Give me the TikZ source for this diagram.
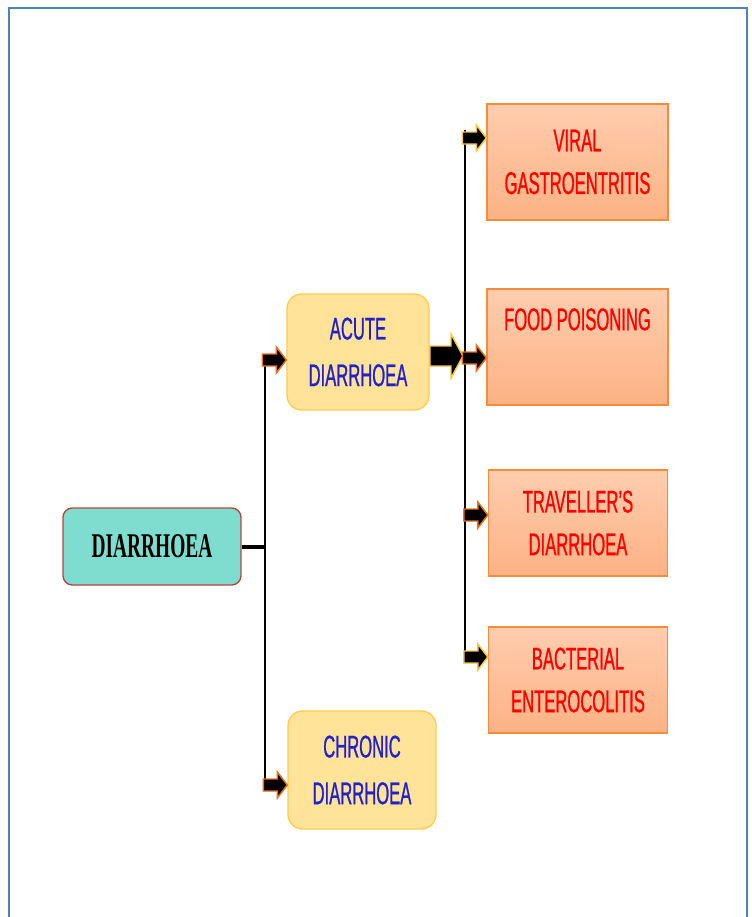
\documentclass[tikz,border=0pt]{standalone}
\usepackage{fontspec}
\usetikzlibrary{calc}
\newfontfamily\narrowsans[FakeStretch=0.53,FakeBold=0.8]{Liberation Sans}
\newfontfamily\narrowserif[FakeStretch=0.56]{Liberation Serif}
\definecolor{framebl}{HTML}{4F81BD}
\definecolor{tealfill}{HTML}{7EDDCF}
\definecolor{tealedge}{HTML}{B8453C}
\definecolor{yelfill}{HTML}{FFE398}
\definecolor{yeledge}{HTML}{FFCB4C}
\definecolor{ortop}{HTML}{FFCDAE}
\definecolor{orbot}{HTML}{FCB284}
\definecolor{oredge}{HTML}{F68B3C}
\definecolor{txtblue}{HTML}{2222CC}
\definecolor{arrorange}{HTML}{E8701A}
\definecolor{arryellow}{HTML}{F6C646}
\tikzset{
  mainbox/.style={draw=tealedge,fill=tealfill,line width=1pt,rounded corners=7pt,
    minimum width=133.5pt,minimum height=57.75pt,inner sep=0pt,
    font=\narrowserif\bfseries\fontsize{26}{30}\selectfont},
  typebox/.style={draw=yeledge,fill=yelfill,line width=1pt,rounded corners=11pt,
    inner sep=0pt,align=center,text=txtblue,
    font=\narrowsans\fontsize{23.5}{35}\selectfont},
  causebox/.style={draw=oredge,top color=ortop,bottom color=orbot,line width=1pt,
    inner sep=0pt,align=center,text=red,
    font=\narrowsans\fontsize{23.5}{32}\selectfont},
  conn/.style={line width=2.2pt,black},
  smallarr/.pic={\path[pic actions] (0,0) -- (-10,-13) -- (-10,-6) -- (-24,-6)
    -- (-24,6) -- (-10,6) -- (-10,13) -- cycle;},
  bigarr/.pic={\path[pic actions] (0,0) -- (-12,-22) -- (-12,-10) -- (-33,-10)
    -- (-33,10) -- (-12,10) -- (-12,22) -- cycle;},
  tipor/.style={fill=black,draw=arrorange,line width=1.1pt,line join=miter},
  tipye/.style={fill=black,draw=arryellow,line width=1.1pt,line join=miter}
}
\begin{document}
\begin{tikzpicture}[x=0.75pt,y=-0.75pt]
\useasboundingbox (0,0) rectangle (751,917);
% FRAME
\draw [framebl,line width=1.6pt] (9,917) -- (9,8) -- (747,8) -- (747,917);
% BOXES
\node [mainbox] (diar) at (152,546.5) {DIARRHOEA};
\node [typebox,minimum width=106.5pt,minimum height=87pt] (acute) at (358,352) {ACUTE\\DIARRHOEA};
\node [typebox,minimum width=111pt,minimum height=88.5pt] (chronic) at (362,770) {CHRONIC\\DIARRHOEA};
\node [causebox,minimum width=135.75pt,minimum height=87pt] (viral) at (577.5,162) {VIRAL\\GASTROENTRITIS};
\node [causebox,minimum width=135.75pt,minimum height=87pt] (food) at (577.5,347) {FOOD POISONING\\\strut};
\node [causebox,minimum width=134.25pt,minimum height=79.5pt] (trav) at (578,523) {TRAVELLER’S\\DIARRHOEA};
\node [causebox,minimum width=134.25pt,minimum height=79.5pt] (bact) at (578,680) {BACTERIAL\\ENTEROCOLITIS};
% LEFT CONNECTOR
\coordinate (jl) at (265,549);
\coordinate (ta) at (acute.west |- 0,360);
\coordinate (tc) at (chronic.west |- 0,785);
\draw [conn,line width=3pt] (diar.east) -- (diar.east -| jl);
\draw [conn] (jl |- ta) -- (jl |- tc);
\pic [tipor] at (ta) {smallarr};
\pic [tipor] at (tc) {smallarr};
% RIGHT CONNECTOR
\coordinate (jr) at (465,356);
\coordinate (tv) at (viral.west |- 0,138);
\coordinate (tf) at (food.west |- 0,358);
\coordinate (tt) at (trav.west |- 0,515);
\coordinate (tb) at (bact.west |- 0,657);
\draw [conn] (jr |- 0,130) -- (jr |- tb);
\pic [tipye] at ($(jr)+(-2,0)$) {bigarr};
\pic [tipye] at (tv) {smallarr};
\pic [tipor] at (tf) {smallarr};
\pic [tipor] at (tt) {smallarr};
\pic [tipye] at (tb) {smallarr};
\end{tikzpicture}
\end{document}
